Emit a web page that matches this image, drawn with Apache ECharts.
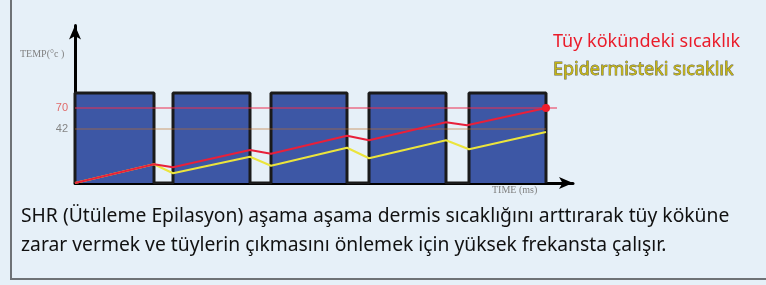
<!DOCTYPE html>
<html>
<head>
<meta charset="utf-8">
<script src="https://cdn.jsdelivr.net/npm/echarts@6/dist/echarts.min.js"></script>
<style>
html, body { margin: 0; padding: 0; background: #e6f0f8; }
#chart { width: 766px; height: 285px; }
</style>
</head>
<body>
<div id="chart"></div>
<script>
// heating pulses (schematic ms) - start / end of each pulse
var pulseStart = [0, 98, 196, 294, 394];
var pulseEnd = [79, 175, 272, 371, 471];
var pulseHigh = 90;
var baseTemp = -30;

// hair root temperature (red)
var rootTimes = [0, 79, 98, 175, 196, 272, 294, 371, 392, 471];
var rootTemp = [-30, -5, -9, 14, 9, 33, 27, 51, 47, 70];

// epidermis temperature (yellow)
var skinTimes = [0, 79, 98, 175, 196, 272, 294, 371, 394, 471];
var skinTemp = [-30, -5, -17, 5, -7, 17, 3, 27, 15, 38];

// reference levels
var yTicks = [70, 42];
var line70 = [[0, 70], [482, 70]];
var line42 = [[0, 42], [471, 42]];

var textLine1 = 'SHR (Ütüleme Epilasyon) aşama aşama dermis sıcaklığını arttırarak tüy köküne';
var textLine2 = 'zarar vermek ve tüylerin çıkmasını önlemek için yüksek frekansta çalışır.';

function buildWave() {
    var pts = [];
    for (var i = 0; i < pulseStart.length; i++) {
        pts.push([pulseStart[i], baseTemp]);
        pts.push([pulseStart[i], pulseHigh]);
        pts.push([pulseEnd[i], pulseHigh]);
        pts.push([pulseEnd[i], baseTemp]);
    }
    return pts;
}

function zipPoints(xs, ys) {
    var out = [];
    for (var i = 0; i < xs.length; i++) {
        out.push([xs[i], ys[i]]);
    }
    return out;
}

var rootData = zipPoints(rootTimes, rootTemp);
var last = rootData.pop();
rootData.push({ value: last, symbol: 'circle', symbolSize: 8 });

var myChart = echarts.init(document.getElementById('chart'));

var mainFont = '"Noto Sans", "Open Sans", sans-serif';

option = {
    backgroundColor: '#e6f0f8',
    animation: false,
    grid: {
        left: 75,
        right: 193,
        top: 25.5,
        bottom: 102
    },
    xAxis: {
        type: 'value',
        min: 0,
        max: 498,
        axisLine: {
            onZero: false,
            lineStyle: { color: '#000', width: 3 },
            symbol: ['none', 'arrow'],
            symbolSize: [9, 14]
        },
        axisTick: { show: false },
        axisLabel: { show: false },
        splitLine: { show: false }
    },
    yAxis: {
        type: 'value',
        min: baseTemp,
        max: 180,
        axisLine: {
            show: true,
            onZero: false,
            lineStyle: { color: '#000', width: 3 },
            symbol: ['none', 'arrow'],
            symbolSize: [9, 14]
        },
        axisTick: { show: false },
        splitLine: { show: false },
        axisLabel: {
            customValues: yTicks,
            fontSize: 11,
            fontFamily: '"Liberation Sans", sans-serif',
            margin: 7,
            color: function (value) {
                return value == 70 ? '#e06a6a' : '#858585';
            }
        }
    },
    series: [
        {
            type: 'line',
            data: buildWave(),
            symbol: 'none',
            lineStyle: { color: '#1a1a1a', width: 3 },
            areaStyle: { color: '#3d57a5', opacity: 1, origin: 'start' },
            z: 1
        },
        {
            type: 'line',
            data: line70,
            symbol: 'none',
            lineStyle: { color: 'rgba(235, 45, 80, 0.5)', width: 2 },
            z: 2
        },
        {
            type: 'line',
            data: line42,
            symbol: 'none',
            lineStyle: { color: 'rgba(190, 110, 40, 0.65)', width: 1 },
            z: 2
        },
        {
            type: 'line',
            data: zipPoints(skinTimes, skinTemp),
            symbol: 'none',
            lineStyle: { color: '#ebe43c', width: 2 },
            z: 3
        },
        {
            type: 'line',
            data: rootData,
            symbol: 'none',
            showAllSymbol: true,
            itemStyle: { color: '#ee1c2c' },
            lineStyle: { color: '#e8203a', width: 2 },
            z: 4
        }
    ],
    graphic: [
        {
            type: 'line',
            shape: { x1: 11, y1: 0, x2: 11, y2: 279 },
            style: { stroke: '#6e7276', lineWidth: 2 }
        },
        {
            type: 'line',
            shape: { x1: 10, y1: 279, x2: 766, y2: 279 },
            style: { stroke: '#6e7276', lineWidth: 2 }
        },
        {
            type: 'text',
            left: 20, top: 49,
            style: { text: 'TEMP(°c )', fill: '#808080', font: '10px "Liberation Serif", serif' }
        },
        {
            type: 'text',
            left: 492, top: 185,
            style: { text: 'TIME (ms)', fill: '#808080', font: '10px "Liberation Serif", serif' }
        },
        {
            type: 'text',
            x: 553, y: 42,
            style: {
                text: 'Tüy kökündeki sıcaklık', fill: '#ea1c2a',
                font: '18px ' + mainFont, verticalAlign: 'middle'
            }
        },
        {
            type: 'text',
            x: 553, y: 70,
            style: {
                text: 'Epidermisteki sıcaklık', fill: '#c4b414',
                stroke: 'rgba(40, 36, 0, 0.7)', lineWidth: 0.8,
                font: '18px ' + mainFont, verticalAlign: 'middle'
            }
        },
        {
            type: 'text',
            x: 21, y: 217,
            style: {
                text: textLine1, fill: '#111',
                font: '19.3px ' + mainFont, verticalAlign: 'middle'
            }
        },
        {
            type: 'text',
            x: 21, y: 246,
            style: {
                text: textLine2, fill: '#111',
                font: '19.3px ' + mainFont, verticalAlign: 'middle'
            }
        }
    ]
};

myChart.setOption(option);
</script>
</body>
</html>
